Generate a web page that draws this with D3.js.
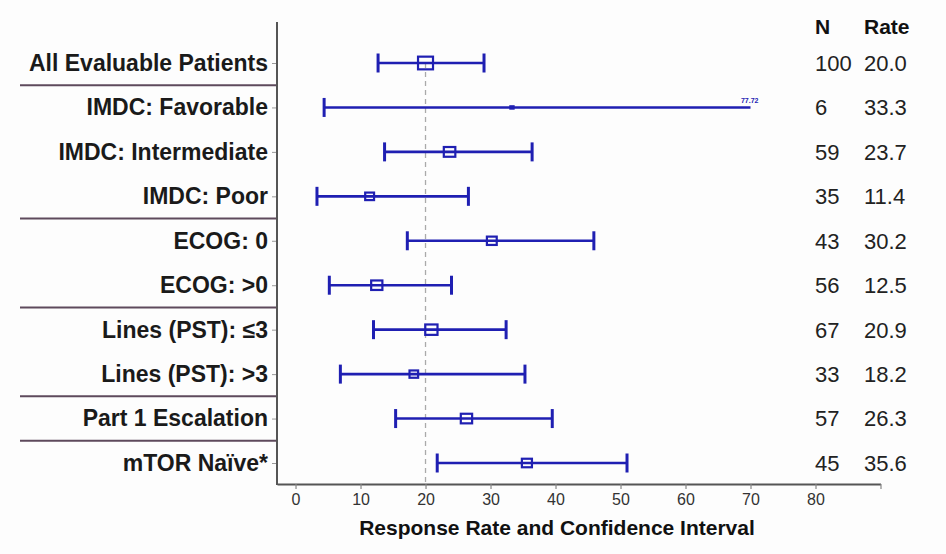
<!DOCTYPE html>
<html>
<head>
<meta charset="utf-8">
<script src="https://cdn.jsdelivr.net/npm/d3@7"></script>
<style>
  html, body { margin: 0; padding: 0; background: #fdfdfd; }
  svg { display: block; font-family: "Liberation Sans", Arial, sans-serif; }
</style>
</head>
<body>
<svg id="chart" width="946" height="554"></svg>
<script>
// ---- data ----
const categories = [
  "All Evaluable Patients",
  "IMDC: Favorable",
  "IMDC: Intermediate",
  "IMDC: Poor",
  "ECOG: 0",
  "ECOG: >0",
  "Lines (PST): \u22643",
  "Lines (PST): >3",
  "Part 1 Escalation",
  "mTOR Na\u00efve*"
];
const nValues = [100, 6, 59, 35, 43, 56, 67, 33, 57, 45];
const rates   = [20.0, 33.3, 23.7, 11.4, 30.2, 12.5, 20.9, 18.2, 26.3, 35.6];
const lowerCI = [12.7, 4.4, 13.7, 3.3, 17.2, 5.2, 12.0, 6.9, 15.4, 21.8];
const upperCI = [29.0, 77.72, 36.4, 26.6, 45.9, 24.0, 32.4, 35.3, 39.5, 51.0];
const xTicks = [0, 10, 20, 30, 40, 50, 60, 70, 80, 90];
const xTickLabels = ["0", "10", "20", "30", "40", "50", "60", "70", "80", ""];
const groupEnds = [0, 3, 5, 7, 8];   // separator after these rows
const referenceRate = 20;
const ciDisplayMax = 70;
const xTitle = "Response Rate and Confidence Interval";
const colHeaders = ["N", "Rate"];

// ---- layout ----
const svg = d3.select("#chart");
const blue = "#1f1fb2";
const x = d3.scaleLinear().domain([-2.85, 90]).range([277, 880.5]);
const y = d3.scalePoint().domain(categories).range([63, 463]);
const step = y.step();
const boxH = d3.scaleSqrt().domain([0, 100]).range([0, 12.7]);
const rows = categories.map((c, i) => ({
  cat: c, n: nValues[i], rate: rates[i], lo: lowerCI[i], hi: upperCI[i]
}));

// group separators (left label area)
groupEnds.forEach(i => {
  const yy = y(categories[i]) + step / 2;
  svg.append("line")
    .attr("x1", 20).attr("x2", 277)
    .attr("y1", yy).attr("y2", yy)
    .attr("stroke", "#5e4a5c").attr("stroke-width", 2);
});

// reference dashed line
svg.append("line")
  .attr("x1", x(referenceRate)).attr("x2", x(referenceRate))
  .attr("y1", y(categories[0])).attr("y2", 484)
  .attr("stroke", "#aaaaaa").attr("stroke-width", 1.3)
  .attr("stroke-dasharray", "5,4");

// x axis
const xAxis = d3.axisBottom(x)
  .tickValues(xTicks)
  .tickSize(5)
  .tickSizeOuter(0)
  .tickPadding(5)
  .tickFormat((d, i) => xTickLabels[i]);
const gx = svg.append("g").attr("transform", "translate(0,484)").call(xAxis);
gx.select(".domain").attr("stroke", "#555").attr("stroke-width", 2);
gx.selectAll(".tick line").attr("stroke", "#888").attr("stroke-width", 1.2);
gx.selectAll(".tick text").attr("font-size", 16).attr("fill", "#333")
  .attr("font-family", "Liberation Sans, Arial, sans-serif");

// y axis
const yAxis = d3.axisLeft(y).tickSize(5).tickPadding(4);
const gy = svg.append("g").attr("transform", "translate(277,0)").call(yAxis);
gy.select(".domain").remove();
gy.selectAll(".tick line").attr("stroke", "#999").attr("stroke-width", 1);
gy.selectAll(".tick text")
  .attr("font-size", 23).attr("font-weight", "bold").attr("fill", "#1a1a1a")
  .attr("font-family", "Liberation Sans, Arial, sans-serif");
svg.append("line")
  .attr("x1", 277).attr("x2", 277).attr("y1", 22).attr("y2", 485)
  .attr("stroke", "#555").attr("stroke-width", 2);

// CI lines
const ciG = svg.append("g");
rows.forEach(d => {
  const cy = y(d.cat);
  const hiShown = Math.min(d.hi, ciDisplayMax);
  ciG.append("line")
    .attr("x1", x(d.lo)).attr("x2", x(hiShown))
    .attr("y1", cy).attr("y2", cy)
    .attr("stroke", blue).attr("stroke-width", 2.6);
  // caps
  ciG.append("line")
    .attr("x1", x(d.lo)).attr("x2", x(d.lo))
    .attr("y1", cy - 9.5).attr("y2", cy + 9.5)
    .attr("stroke", blue).attr("stroke-width", 3);
  if (d.hi <= ciDisplayMax) {
    ciG.append("line")
      .attr("x1", x(d.hi)).attr("x2", x(d.hi))
      .attr("y1", cy - 9.5).attr("y2", cy + 9.5)
      .attr("stroke", blue).attr("stroke-width", 3);
  } else {
    ciG.append("text")
      .attr("x", x(hiShown) + 8).attr("y", cy - 4)
      .attr("text-anchor", "end")
      .attr("font-size", 7).attr("font-weight", "bold")
      .attr("fill", blue)
      .text(d.hi.toFixed(2));
  }
  // estimate box
  const h = boxH(d.n), w = h * 1.18;
  if (h < 5) {
    const hh = Math.max(h, 4.5), ww = hh * 1.2;
    ciG.append("rect")
      .attr("x", x(d.rate) - ww / 2).attr("y", cy - hh / 2)
      .attr("width", ww).attr("height", hh)
      .attr("fill", blue);
  } else {
    ciG.append("rect")
      .attr("x", x(d.rate) - w / 2).attr("y", cy - h / 2)
      .attr("width", w).attr("height", h)
      .attr("fill", "none").attr("stroke", blue).attr("stroke-width", 2.2);
  }
});

// right columns
const colX = [815, 864];
colHeaders.forEach((t, i) => {
  svg.append("text").attr("x", colX[i]).attr("y", 34)
    .attr("font-size", 21).attr("font-weight", "bold").attr("fill", "#111")
    .text(t);
});
rows.forEach(d => {
  const cy = y(d.cat);
  svg.append("text").attr("x", colX[0]).attr("y", cy).attr("dy", "0.36em")
    .attr("font-size", 22).attr("fill", "#222").text(d.n);
  svg.append("text").attr("x", colX[1]).attr("y", cy).attr("dy", "0.36em")
    .attr("font-size", 22).attr("fill", "#222").text(d.rate.toFixed(1));
});

// x title
svg.append("text")
  .attr("x", 557).attr("y", 535)
  .attr("text-anchor", "middle")
  .attr("font-size", 21).attr("font-weight", "bold").attr("fill", "#111")
  .text(xTitle);
</script>
</body>
</html>
